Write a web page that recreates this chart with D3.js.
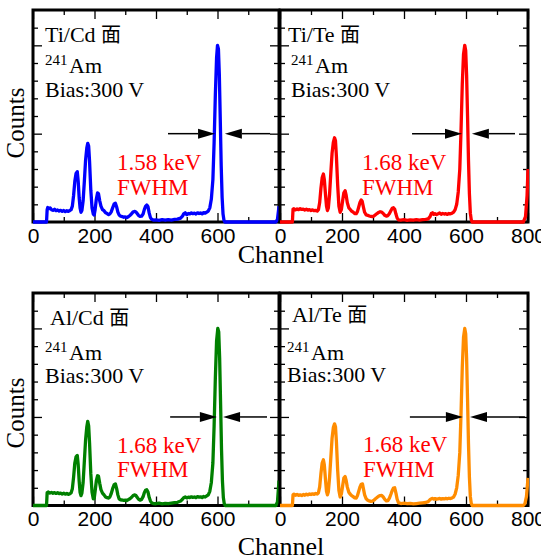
<!DOCTYPE html>
<html lang="en">
<head>
<meta charset="utf-8">
<title>241Am spectra</title>
<script src="https://cdn.jsdelivr.net/npm/d3@7"></script>
<style>
  body { margin: 0; background: #fff; }
  svg { display: block; font-family: "Liberation Serif", "Times New Roman", serif; }
  .tick text { font-size: 21px; fill: #000; }
</style>
</head>
<body>
<svg width="541" height="558"></svg>
<script>

// panel titles and FWHM values
var faces = ["Ti/Cd", "Ti/Te", "Al/Cd", "Al/Te"];
var fwhm = ["1.58 keV", "1.68 keV", "1.68 keV", "1.68 keV"];
var colors = ["#0000ff", "#ff0000", "#008000", "#ff8c00"];

// x ticks (channel) and y ticks (counts)
var xMajor = [0, 200, 400, 600, 800];
var xMinor = [100, 300, 500, 700];
var yMajor = [0, 5000, 10000];
var yMinor = [1000, 2000, 3000, 4000, 6000, 7000, 8000, 9000, 11000];

// FWHM arrows: line start, left tip, right tip, line end (channel)
var arrows = [
  [439, 592, 624, 771],
  [426, 587, 619, 758],
  [446, 598, 618, 761],
  [419, 590, 613, 790]
];

// spectra [channel, counts]
var tiCd = [[0,0],[44,0],[46,700],[48,820],[52,760],[56,800],[60,700],[65,660],[70,720],[75,640],[80,680],[85,620],[90,660],[95,600],[100,650],[105,590],[110,640],[115,600],[120,650],[124,700],[128,900],[132,1500],[136,2300],[140,2750],[144,2850],[147,2300],[150,1400],[153,800],[156,550],[159,650],[163,1200],[167,2300],[171,3500],[175,4200],[178,4450],[181,4300],[184,3400],[188,1800],[192,800],[196,450],[199,400],[202,700],[206,1300],[210,1650],[213,1600],[217,1200],[221,900],[226,700],[231,640],[236,520],[241,480],[246,420],[250,460],[254,560],[259,800],[264,1020],[268,1060],[272,850],[276,560],[280,400],[285,330],[290,310],[295,270],[300,290],[305,250],[310,300],[315,370],[320,450],[325,560],[330,600],[334,580],[338,500],[343,380],[348,320],[353,330],[358,450],[362,700],[366,880],[370,960],[374,860],[378,500],[382,250],[386,150],[391,110],[400,120],[410,90],[420,130],[430,100],[440,140],[450,110],[460,150],[470,160],[480,220],[486,330],[490,460],[495,520],[500,420],[505,480],[510,460],[515,520],[520,470],[525,500],[530,450],[535,520],[540,480],[545,510],[550,460],[555,530],[560,500],[565,560],[570,620],[575,800],[580,1300],[585,2400],[589,4500],[593,7200],[597,9300],[600,10000],[603,9800],[606,8300],[609,5800],[612,3200],[615,1400],[618,450],[621,100],[624,0],[790,0],[795,150],[800,900]];

var tiTe = [[0,0],[40,0],[42,720],[45,750],[50,690],[55,740],[60,700],[65,760],[70,710],[75,730],[80,680],[85,720],[90,670],[95,700],[100,650],[105,690],[110,640],[115,660],[120,620],[124,700],[128,1100],[132,1900],[136,2500],[140,2720],[143,2400],[147,1500],[150,900],[153,650],[156,800],[160,1600],[164,2800],[168,3900],[172,4500],[176,4770],[179,4600],[182,3700],[186,2100],[190,900],[194,550],[198,700],[202,1200],[206,1650],[210,1770],[213,1550],[217,1100],[222,800],[226,720],[231,620],[236,560],[241,480],[246,470],[250,600],[254,850],[258,1100],[262,1250],[265,1180],[269,850],[273,550],[278,400],[283,380],[288,340],[293,320],[298,300],[303,340],[308,410],[313,480],[318,540],[323,580],[328,560],[333,480],[338,380],[343,330],[348,360],[353,480],[358,650],[362,780],[366,810],[370,720],[374,450],[378,220],[382,120],[390,100],[400,130],[410,90],[420,120],[430,100],[440,130],[450,110],[460,140],[470,150],[478,180],[484,300],[488,480],[492,520],[496,430],[500,470],[505,420],[510,460],[515,510],[520,440],[525,480],[530,450],[535,470],[540,430],[545,480],[550,460],[555,500],[560,560],[565,700],[570,1000],[575,1700],[580,3000],[584,5200],[588,7800],[592,9500],[596,10000],[599,9700],[602,8300],[605,6000],[608,3500],[611,1600],[614,500],[617,120],[620,0],[785,0],[792,300],[797,1500],[800,3000]];

var alCd = [[0,0],[44,0],[46,720],[50,760],[55,700],[60,740],[65,690],[70,730],[75,680],[80,720],[85,670],[90,700],[95,650],[100,690],[105,640],[110,680],[115,630],[120,660],[124,720],[128,950],[132,1600],[136,2400],[140,2750],[144,2830],[147,2300],[150,1400],[153,750],[156,560],[159,700],[163,1300],[167,2500],[171,3700],[175,4450],[178,4750],[181,4500],[184,3500],[188,1800],[192,750],[196,380],[199,400],[202,800],[206,1400],[210,1680],[213,1650],[217,1250],[221,900],[226,700],[231,600],[236,480],[241,440],[246,420],[250,480],[254,650],[259,950],[264,1180],[268,1220],[272,950],[276,600],[280,380],[285,320],[290,310],[295,290],[300,300],[305,280],[310,330],[315,380],[320,450],[325,550],[330,600],[334,580],[338,480],[343,360],[348,300],[353,340],[358,500],[362,720],[366,860],[370,890],[374,760],[378,450],[382,250],[386,150],[391,110],[400,100],[410,130],[420,90],[430,120],[440,100],[450,130],[460,160],[470,180],[480,250],[486,350],[490,440],[495,480],[500,430],[505,470],[510,450],[515,490],[520,460],[525,480],[530,440],[535,500],[540,470],[545,490],[550,450],[555,510],[560,480],[565,540],[570,600],[575,800],[580,1300],[585,2400],[589,4500],[593,7200],[597,9300],[601,10000],[604,9800],[607,8300],[610,5800],[613,3200],[616,1400],[619,450],[622,100],[625,0],[790,0],[795,200],[800,1400]];

var alTe = [[0,0],[40,0],[42,600],[45,640],[50,580],[55,620],[60,570],[65,600],[70,560],[75,620],[80,580],[85,640],[90,600],[95,650],[100,620],[105,660],[110,630],[115,680],[120,650],[124,720],[128,1050],[132,1800],[136,2400],[140,2580],[143,2300],[147,1400],[150,800],[153,600],[156,780],[160,1600],[164,2700],[168,3800],[172,4400],[176,4610],[179,4450],[182,3600],[186,2000],[190,850],[194,480],[198,650],[202,1100],[206,1550],[210,1640],[213,1450],[217,1050],[222,750],[226,650],[231,560],[236,500],[241,430],[246,420],[250,560],[254,800],[258,1050],[262,1200],[266,1220],[269,950],[273,600],[278,380],[283,300],[288,260],[293,230],[298,250],[303,300],[308,380],[313,450],[318,520],[323,560],[328,570],[333,480],[338,350],[343,260],[348,280],[353,420],[358,650],[362,850],[366,980],[370,1000],[374,700],[378,350],[382,160],[390,110],[400,130],[410,100],[420,120],[430,90],[440,110],[450,130],[460,150],[470,170],[478,220],[484,330],[488,380],[492,400],[496,360],[500,390],[505,350],[510,380],[515,400],[520,360],[525,390],[530,370],[535,400],[540,380],[545,410],[550,390],[555,430],[560,480],[565,650],[570,1000],[575,1700],[580,3000],[584,5200],[588,7800],[592,9500],[596,10000],[599,9700],[602,8300],[605,6000],[608,3500],[611,1600],[614,500],[617,120],[620,0],[785,0],[790,100],[795,500],[800,1560]];

var spectra = [tiCd, tiTe, alCd, alTe];

// panel boxes + text placement
var panels = [
  {x0: 33,  x1: 279, y0: 10,  y1: 222,   tx: 45,  tt: 42,  sx: 45,  am: 73,  bias: 97,  rx: 117, r1: 170, r2: 195},
  {x0: 280, x1: 528, y0: 10,  y1: 222,   tx: 288, tt: 42,  sx: 291, am: 73,  bias: 97,  rx: 362, r1: 170, r2: 195},
  {x0: 33,  x1: 279, y0: 293, y1: 505.5, tx: 50,  tt: 325, sx: 45,  am: 360, bias: 383, rx: 117, r1: 453, r2: 477},
  {x0: 280, x1: 528, y0: 293, y1: 505.5, tx: 292, tt: 322, sx: 287, am: 360, bias: 382, rx: 363, r1: 452, r2: 477}
];

var svg = d3.select("svg");

panels.forEach(function(p, i) {
  var x = d3.scaleLinear().domain([0, 800]).range([p.x0, p.x1]);
  var y = d3.scaleLinear().domain([0, 12000]).range([p.y1, p.y0]);
  var g = svg.append("g");
  var left = (i % 2 === 0);

  // ticks, all pointing inward
  g.append("g").attr("transform", "translate(0," + p.y1 + ")")
    .call(d3.axisBottom(x).tickValues(xMajor).tickSize(-9).tickPadding(6)
      .tickFormat(function(d) { return (left && d === 800) ? "" : d; }));
  g.append("g").attr("transform", "translate(0," + p.y1 + ")")
    .call(d3.axisBottom(x).tickValues(xMinor).tickSize(-5).tickFormat(""));
  g.append("g").attr("transform", "translate(0," + p.y0 + ")")
    .call(d3.axisTop(x).tickValues(xMajor).tickSize(-9).tickFormat(""));
  g.append("g").attr("transform", "translate(0," + p.y0 + ")")
    .call(d3.axisTop(x).tickValues(xMinor).tickSize(-5).tickFormat(""));
  g.append("g").attr("transform", "translate(" + p.x0 + ",0)")
    .call(d3.axisLeft(y).tickValues(yMajor).tickSize(-9).tickFormat(""));
  g.append("g").attr("transform", "translate(" + p.x0 + ",0)")
    .call(d3.axisLeft(y).tickValues(yMinor).tickSize(-5).tickFormat(""));
  g.append("g").attr("transform", "translate(" + p.x1 + ",0)")
    .call(d3.axisRight(y).tickValues(yMajor).tickSize(-9).tickFormat(""));
  g.append("g").attr("transform", "translate(" + p.x1 + ",0)")
    .call(d3.axisRight(y).tickValues(yMinor).tickSize(-5).tickFormat(""));
  g.selectAll(".domain").remove();
  g.selectAll(".tick line").attr("stroke", "#000").attr("stroke-width", 1.3);

  g.append("rect")
    .attr("x", p.x0).attr("y", p.y0)
    .attr("width", p.x1 - p.x0).attr("height", p.y1 - p.y0)
    .attr("fill", "none").attr("stroke", "#000").attr("stroke-width", 3);

  // spectrum
  var clipId = "clip" + i;
  svg.append("clipPath").attr("id", clipId).append("rect")
    .attr("x", p.x0).attr("y", p.y0)
    .attr("width", p.x1 - p.x0 + 1).attr("height", p.y1 - p.y0 + 3);
  var line = d3.line().x(function(d) { return x(d[0]); }).y(function(d) { return y(d[1]); });
  g.append("path").datum(spectra[i])
    .attr("clip-path", "url(#" + clipId + ")")
    .attr("d", line)
    .attr("fill", "none")
    .attr("stroke", colors[i])
    .attr("stroke-width", 3.3)
    .attr("stroke-linejoin", "round");

  // FWHM arrows at half maximum
  var a = arrows[i], ay = y(5000), hl = 17, hw = 5;
  g.append("line").attr("x1", x(a[0])).attr("x2", x(a[1]) - hl)
    .attr("y1", ay).attr("y2", ay).attr("stroke", "#000").attr("stroke-width", 1.5);
  g.append("line").attr("x1", x(a[2]) + hl).attr("x2", x(a[3]))
    .attr("y1", ay).attr("y2", ay).attr("stroke", "#000").attr("stroke-width", 1.5);
  g.append("path")
    .attr("d", "M" + x(a[1]) + "," + ay + "L" + (x(a[1]) - hl) + "," + (ay - hw) + "L" + (x(a[1]) - hl) + "," + (ay + hw) + "Z")
    .attr("fill", "#000");
  g.append("path")
    .attr("d", "M" + x(a[2]) + "," + ay + "L" + (x(a[2]) + hl) + "," + (ay - hw) + "L" + (x(a[2]) + hl) + "," + (ay + hw) + "Z")
    .attr("fill", "#000");

  // annotations
  var t = g.append("text").attr("x", p.tx).attr("y", p.tt).attr("font-size", 22);
  t.append("tspan").text(faces[i] + " ");
  t.append("tspan").attr("font-family", "'Noto Sans CJK JP', sans-serif").attr("font-size", 20).text("面");

  g.append("text").attr("x", p.sx).attr("y", p.am - 8).attr("font-size", 15).text("241");
  g.append("text").attr("x", p.sx + 24).attr("y", p.am).attr("font-size", 22).text("Am");
  g.append("text").attr("x", p.sx).attr("y", p.bias).attr("font-size", 22).text("Bias:300 V");

  g.append("text").attr("x", p.rx).attr("y", p.r1).attr("font-size", 23).attr("fill", "#ff0000").text(fwhm[i]);
  g.append("text").attr("x", p.rx).attr("y", p.r2).attr("font-size", 23).attr("fill", "#ff0000").text("FWHM");
});

// axis titles
[123, 413].forEach(function(cy) {
  svg.append("text").attr("transform", "translate(24," + cy + ") rotate(-90)")
    .attr("text-anchor", "middle").attr("font-size", 25).text("Counts");
});
[263, 555].forEach(function(by) {
  svg.append("text").attr("x", 281).attr("y", by)
    .attr("text-anchor", "middle").attr("font-size", 26).text("Channel");
});

</script>
</body>
</html>
